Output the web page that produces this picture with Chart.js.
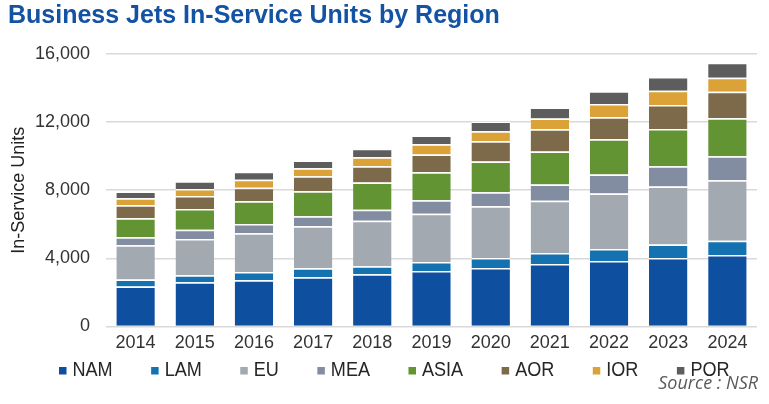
<!DOCTYPE html>
<html>
<head>
<meta charset="utf-8">
<script src="https://cdn.jsdelivr.net/npm/chart.js@4.4.1/dist/chart.umd.min.js"></script>
<style>
html,body{margin:0;padding:0;background:#fff;}
#wrap{width:769px;height:404px;position:relative;}
</style>
</head>
<body>
<div id="wrap"><canvas id="c" width="769" height="404"></canvas></div>
<script>
const years = ['2014','2015','2016','2017','2018','2019','2020','2021','2022','2023','2024'];
const NAM  = [2350, 2590, 2710, 2880, 3070, 3250, 3430, 3660, 3840, 4020, 4200];
const LAM  = [410, 410, 490, 530, 470, 530, 590, 650, 710, 790, 830];
const EU   = [2000, 2140, 2270, 2470, 2660, 2840, 3030, 3070, 3250, 3410, 3550];
const MEA  = [470, 530, 550, 590, 650, 790, 830, 950, 1120, 1180, 1420];
const ASIA = [1120, 1220, 1330, 1470, 1600, 1640, 1810, 1950, 2070, 2190, 2230];
const AOR  = [770, 770, 800, 880, 950, 1040, 1180, 1300, 1300, 1420, 1560];
const IOR  = [410, 410, 470, 470, 530, 610, 590, 630, 770, 830, 810];
const POR  = [390, 450, 470, 450, 510, 510, 570, 650, 750, 810, 890];
const yTicks = [0, 4000, 8000, 12000, 16000];

const seriesNames = ['NAM','LAM','EU','MEA','ASIA','AOR','IOR','POR'];
const seriesData = [NAM, LAM, EU, MEA, ASIA, AOR, IOR, POR];
const colors = ['#0E4FA0','#1572B0','#A3A9B1','#828DA1','#629433','#7D6A4B','#DBA337','#5D5D5D'];

const customLegend = {
  id: 'customLegend',
  afterDraw(chart) {
    const ctx = chart.ctx;
    const sx = 0.86;
    ctx.save();
    ctx.font = '21px "Liberation Sans", Arial, sans-serif';
    ctx.textBaseline = 'middle';
    let x = 59;
    const y = 370.5;
    chart.data.datasets.forEach(ds => {
      ctx.fillStyle = ds.backgroundColor;
      ctx.fillRect(x, y - 3.5, 7.5, 7.5);
      ctx.fillStyle = '#262626';
      const tx = x + 13.5;
      ctx.save();
      ctx.translate(tx, y);
      ctx.scale(sx, 1);
      ctx.fillText(ds.label, 0, 0);
      ctx.restore();
      x = tx + ctx.measureText(ds.label).width * sx + 38.5;
    });
    ctx.font = 'italic 18px "Open Sans", "Liberation Sans", sans-serif';
    ctx.fillStyle = '#595959';
    ctx.textAlign = 'right';
    ctx.textBaseline = 'alphabetic';
    ctx.fillText('Source : NSR', 758, 389);
    ctx.restore();
  }
};

new Chart(document.getElementById('c'), {
  type: 'bar',
  data: {
    labels: years,
    datasets: seriesNames.map((n, i) => ({
      label: n,
      data: seriesData[i],
      backgroundColor: colors[i],
      borderColor: '#ffffff',
      borderWidth: {top: 1.5, left: 0, right: 0, bottom: 0},
      borderSkipped: false,
      barPercentage: 0.65,
      categoryPercentage: 1.0
    }))
  },
  options: {
    responsive: false,
    animation: false,
    devicePixelRatio: 1,
    layout: {padding: {left: 8, right: 12, top: 0, bottom: 44}},
    plugins: {
      legend: {display: false},
      tooltip: {enabled: false},
      title: {
        display: true,
        text: 'Business Jets In-Service Units by Region',
        align: 'start',
        color: '#1452A3',
        font: {family: '"Liberation Sans", Arial, sans-serif', size: 25, weight: 'bold'},
        padding: {top: 1, bottom: 23}
      }
    },
    scales: {
      x: {
        stacked: true,
        grid: {display: false, drawTicks: false},
        border: {display: false},
        ticks: {color: '#333333', font: {family: '"Liberation Sans", Arial, sans-serif', size: 18}, padding: 6}
      },
      y: {
        stacked: true,
        min: 0,
        max: 16000,
        afterBuildTicks(scale) { scale.ticks = yTicks.map(v => ({value: v})); },
        afterFit(scale) { scale.width = 98; },
        grid: {color: '#d9d9d9', lineWidth: 1.5, drawTicks: false},
        border: {display: false},
        ticks: {
          color: '#333333',
          font: {family: '"Liberation Sans", Arial, sans-serif', size: 18},
          padding: 16,
          callback: v => v.toLocaleString('en-US')
        },
        title: {
          display: true,
          text: 'In-Service Units',
          color: '#222222',
          font: {family: '"Liberation Sans", Arial, sans-serif', size: 18},
          padding: {top: 0, bottom: 0}
        }
      }
    }
  },
  plugins: [customLegend]
});
</script>
</body>
</html>
